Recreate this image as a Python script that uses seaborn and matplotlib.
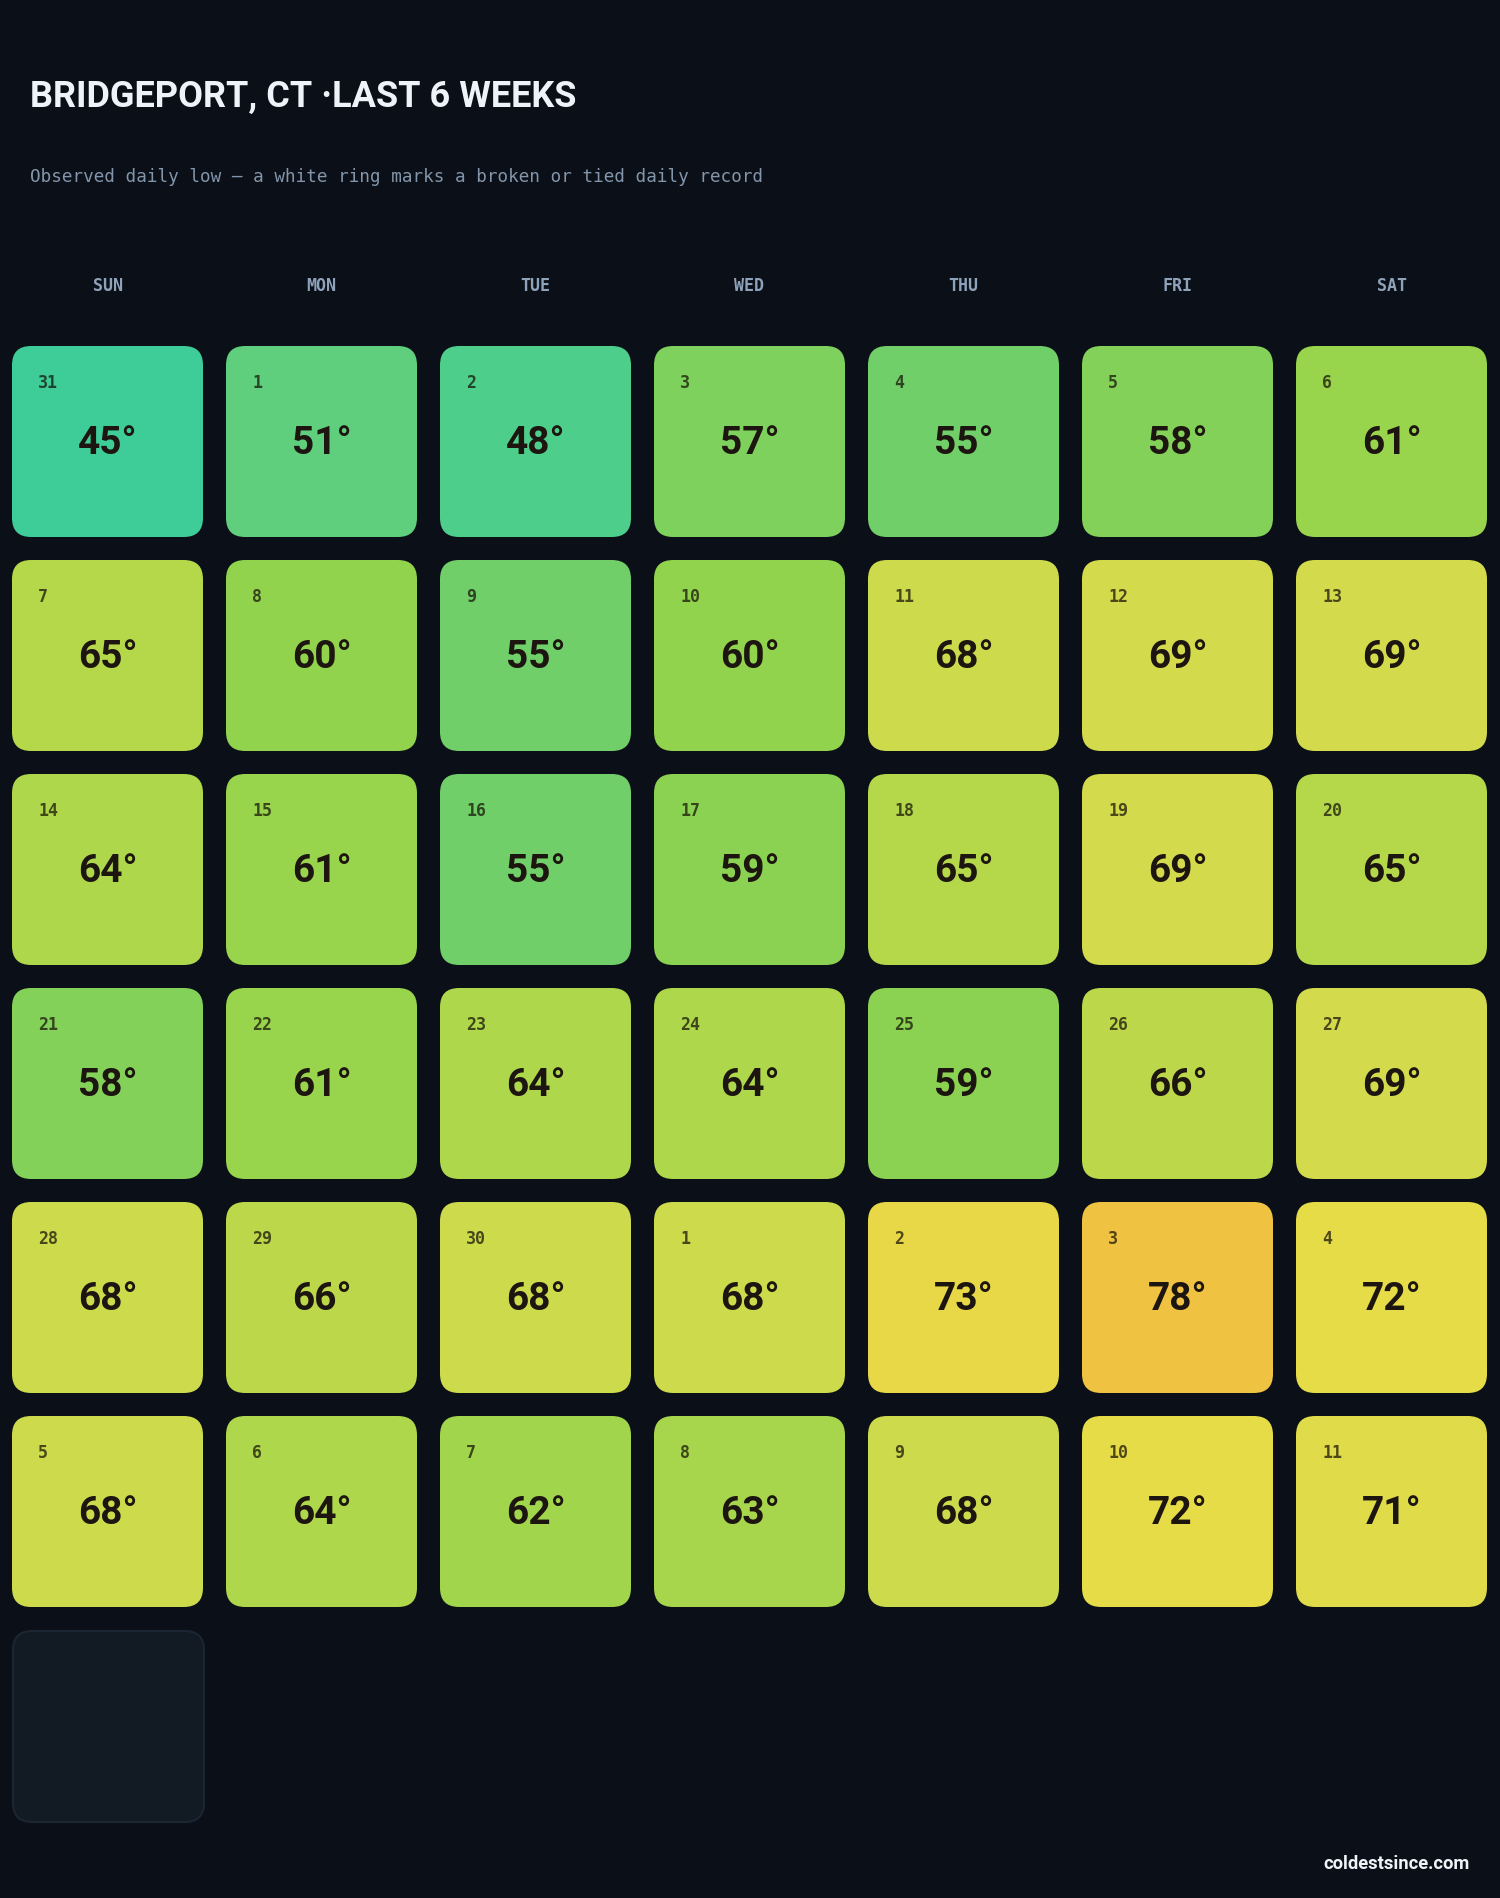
import pandas as pd
import matplotlib.pyplot as plt
import seaborn as sns
from matplotlib.path import Path
from matplotlib.markers import MarkerStyle
from matplotlib.colors import LinearSegmentedColormap

# --- data -------------------------------------------------------------
day_names = ["SUN", "MON", "TUE", "WED", "THU", "FRI", "SAT"]
day_numbers = [31, 1, 2, 3, 4, 5, 6,
               7, 8, 9, 10, 11, 12, 13,
               14, 15, 16, 17, 18, 19, 20,
               21, 22, 23, 24, 25, 26, 27,
               28, 29, 30, 1, 2, 3, 4,
               5, 6, 7, 8, 9, 10, 11]
daily_lows = [45, 51, 48, 57, 55, 58, 61,
              65, 60, 55, 60, 68, 69, 69,
              64, 61, 55, 59, 65, 69, 65,
              58, 61, 64, 64, 59, 66, 69,
              68, 66, 68, 68, 73, 78, 72,
              68, 64, 62, 63, 68, 72, 71]
n_pending = 1  # today's slot, no reading yet

# colour ramp anchors (temperature, colour)
ramp_temps = [45, 51, 55, 60, 65, 69, 72, 78]
ramp_colors = ["#3ecd98", "#5fcf7d", "#70cf68", "#92d34e",
               "#b5d84a", "#d3da4c", "#e6dc48", "#efc242"]

BG = "#0b0f17"
W, H, DPI = 1500, 1899, 100

sns.set_theme(style="dark", rc={
    "figure.facecolor": BG,
    "axes.facecolor": BG,
    "savefig.facecolor": BG,
})
plt.rcParams["font.family"] = ["DejaVu Sans"]

df = pd.DataFrame({"day": day_numbers, "low": daily_lows})
df["weekday"] = df.index % 7
df["week"] = df.index // 7

pending = pd.DataFrame({"slot": range(len(df), len(df) + n_pending)})
pending["weekday"] = pending["slot"] % 7
pending["week"] = pending["slot"] // 7

lo, hi = min(ramp_temps), max(ramp_temps)
cmap = LinearSegmentedColormap.from_list(
    "lows", [((t - lo) / (hi - lo), c) for t, c in zip(ramp_temps, ramp_colors)])

# rounded square marker
r = 0.1
verts = [(-0.5 + r, -0.5), (0.5 - r, -0.5), (0.5, -0.5), (0.5, -0.5 + r),
         (0.5, 0.5 - r), (0.5, 0.5), (0.5 - r, 0.5),
         (-0.5 + r, 0.5), (-0.5, 0.5), (-0.5, 0.5 - r),
         (-0.5, -0.5 + r), (-0.5, -0.5), (-0.5 + r, -0.5), (-0.5 + r, -0.5)]
codes = [Path.MOVETO, Path.LINETO, Path.CURVE3, Path.CURVE3,
         Path.LINETO, Path.CURVE3, Path.CURVE3,
         Path.LINETO, Path.CURVE3, Path.CURVE3,
         Path.LINETO, Path.CURVE3, Path.CURVE3, Path.CLOSEPOLY]
rounded = MarkerStyle(Path(verts, codes))

# layout in pixels
pitch = 214
cell = 191
grid_left, grid_top = 0.5, 335.5
n_rows = 7

fig = plt.figure(figsize=(W / DPI, H / DPI), dpi=DPI)
ax = fig.add_axes([grid_left / W, 1 - (grid_top + n_rows * pitch) / H,
                   7 * pitch / W, n_rows * pitch / H])
ax.set_xlim(-0.5, 6.5)
ax.set_ylim(n_rows - 0.5, -0.5)

msize = (cell * 72 / DPI) ** 2

sns.scatterplot(data=df, x="weekday", y="week", hue="low", palette=cmap,
                hue_norm=(lo, hi), marker=rounded, s=msize, linewidth=0,
                legend=False, ax=ax)
sns.scatterplot(data=pending, x="weekday", y="week", color="#121a24",
                marker=rounded, s=msize, edgecolor="#1c2633", linewidth=1.5,
                legend=False, ax=ax)

for _, row in df.iterrows():
    ax.text(row["weekday"] - 69.5 / pitch, row["week"] - 55 / pitch,
            str(row["day"]), ha="left", va="baseline", fontsize=12,
            fontweight="bold", family="DejaVu Sans Mono",
            color="#140f06", alpha=0.72)
    ax.text(row["weekday"], row["week"] + 12 / pitch, f"{row['low']}°",
            ha="center", va="baseline", fontsize=28, fontweight="bold",
            family=["Roboto", "DejaVu Sans"], color="#1c1510")

# weekday headers on top axis
ax.xaxis.tick_top()
ax.set_xticks(range(7))
ax.set_xticklabels(day_names, family="DejaVu Sans Mono", fontweight="bold",
                   fontsize=12, color="#8ea2ba")
ax.tick_params(axis="x", length=0, pad=29.5)
ax.set_yticks([])
ax.set_xlabel("")
ax.set_ylabel("")
for s in ax.spines.values():
    s.set_visible(False)
ax.grid(False)

fig.text(30 / W, 1 - 107 / H, "BRIDGEPORT, CT \u00b7LAST 6 WEEKS",
         ha="left", va="baseline", fontsize=26, fontweight="bold",
         family=["Roboto", "DejaVu Sans"], color="#eef3fa")
fig.text(30 / W, 1 - 182 / H,
         "Observed daily low \u2014 a white ring marks a broken or tied daily record",
         ha="left", va="baseline", fontsize=12.7, family="DejaVu Sans Mono",
         color="#8295aa")
fig.text(1470 / W, 1 - 1869 / H, "coldestsince.com", ha="right",
         va="baseline", fontsize=13.2, fontweight="bold",
         family=["Roboto", "DejaVu Sans"], color="#f0f4f8")

fig.savefig("out.png", dpi=DPI, facecolor=BG)
